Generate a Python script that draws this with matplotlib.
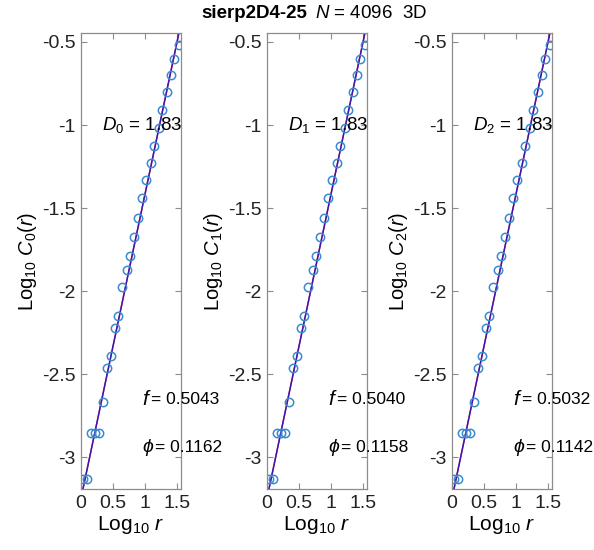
import matplotlib
matplotlib.use("Agg")
import matplotlib.pyplot as plt
import numpy as np

plt.rcParams['font.family'] = ['Liberation Sans', 'DejaVu Sans']
plt.rcParams['mathtext.fontset'] = 'custom'
plt.rcParams['mathtext.rm'] = 'Liberation Sans'
plt.rcParams['mathtext.it'] = 'Liberation Sans:italic'
plt.rcParams['mathtext.bf'] = 'Liberation Sans:bold'

# log10 r and log10 C_q(r)
log_r = [0.036, 0.099, 0.151, 0.219, 0.281, 0.339, 0.401, 0.469, 0.531, 0.583,
         0.646, 0.714, 0.766, 0.833, 0.895, 0.958, 1.016, 1.088, 1.146, 1.219,
         1.270, 1.339, 1.400, 1.458, 1.530]
log_c = [-3.13, -3.13, -2.855, -2.855, -2.855, -2.667, -2.46, -2.39, -2.224, -2.146,
         -1.974, -1.873, -1.79, -1.676, -1.56, -1.436, -1.33, -1.227, -1.125, -1.016,
         -0.91, -0.80, -0.699, -0.604, -0.518]

q_index = [0, 1, 2]
dims = [1.83, 1.83, 1.83]
intercepts = [-3.246, -3.246, -3.246]
f_vals = ["0.5043", "0.5040", "0.5032"]
phi_vals = ["0.1162", "0.1158", "0.1142"]

fig = plt.figure(figsize=(5.94, 5.5), dpi=100)
lefts = [81 / 594, 267 / 594, 452 / 594]
gray = '#8c8c8c'
axes = []
for i, q in enumerate(q_index):
    ax = fig.add_axes([lefts[i], 61 / 550, 100 / 594, 456 / 550])
    xx = np.array([0.0, 1.6])
    ax.plot(xx, dims[i] * xx + intercepts[i], color='#d02020', lw=1.0)
    ax.plot(xx, dims[i] * xx + intercepts[i], color='#2a10c8', lw=1.1, alpha=0.85)
    ax.plot(log_r, log_c, 'o', mfc='none', mec='#3b8ad0', ms=6, mew=1.1)
    ax.set_xlim(0, 1.5625)
    ax.set_ylim(-3.19, -0.446)
    ax.set_xticks([0, 0.5, 1, 1.5])
    ax.set_xticklabels(['0', '0.5', '1', '1.5'])
    ax.set_yticks([-3, -2.5, -2, -1.5, -1, -0.5])
    ax.set_yticklabels(['-3', '-2.5', '-2', '-1.5', '-1', '-0.5'])
    ax.tick_params(direction='in', top=True, right=True, length=4, width=0.8,
                   color=gray, labelsize=14, labelcolor='#222222', pad=4)
    for s in ax.spines.values():
        s.set_color(gray)
        s.set_linewidth(0.9)
    ax.set_xlabel(r'Log$_{10}$ $r$', fontsize=15, labelpad=2)
    ax.set_ylabel(r'Log$_{10}$ $C_{%d}(r)$' % q, fontsize=14.5, labelpad=2)
    ax.text(0.33, -1.0, r'$D_{%d}$ = %.2f' % (q, dims[i]), fontsize=13.5,
            ha='left', va='center', clip_on=False)
    ax.text(0.95, -2.65, r'$f$', fontsize=15, ha='left', va='center', clip_on=False)
    ax.text(1.10, -2.65, '= ' + f_vals[i], fontsize=12.5, ha='left', va='center',
            clip_on=False)
    ax.text(0.95, -2.94, r'$\phi$', fontsize=14, ha='left', va='center',
            clip_on=False)
    ax.text(1.16, -2.94, '= ' + phi_vals[i], fontsize=12.5, ha='left',
            va='center', clip_on=False)
    axes.append(ax)

fig.text(0.517, 0.976, 'sierp2D4-25', fontsize=13.5, fontweight='bold',
         ha='right', va='center')
fig.text(0.530, 0.976, r'$N$ = 4096  3D', fontsize=13.5, ha='left', va='center')

fig.savefig('out.png', dpi=100)
